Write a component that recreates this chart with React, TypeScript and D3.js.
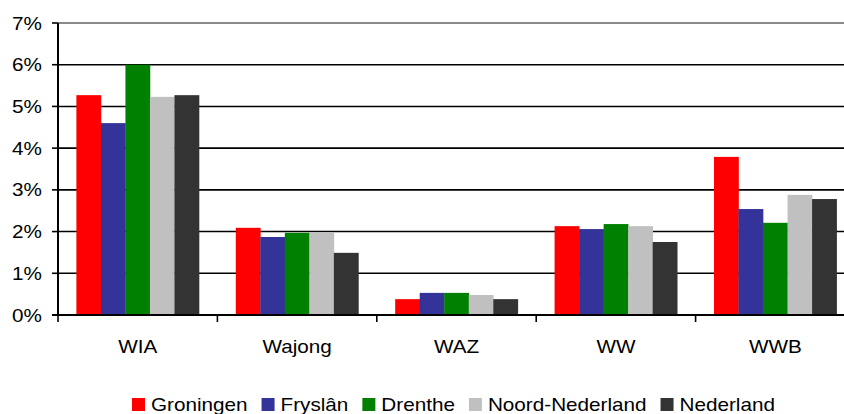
import React, { useEffect, useRef } from 'react';
import * as d3 from 'd3';

// Chart data
const categories = ['WIA', 'Wajong', 'WAZ', 'WW', 'WWB'];
const seriesNames = ['Groningen', 'Fryslân', 'Drenthe', 'Noord-Nederland', 'Nederland'];
const seriesColors = ['#ff0000', '#333399', '#008000', '#c0c0c0', '#333333'];

// values in %, one array per region, ordered as categories
const groningen = [5.27, 2.09, 0.38, 2.13, 3.79];
const fryslan = [4.6, 1.87, 0.53, 2.06, 2.54];
const drenthe = [6.0, 1.97, 0.53, 2.18, 2.21];
const noordNederland = [5.23, 1.97, 0.48, 2.13, 2.88];
const nederland = [5.27, 1.49, 0.38, 1.75, 2.78];
const seriesValues = [groningen, fryslan, drenthe, noordNederland, nederland];

const yTicks = [0, 1, 2, 3, 4, 5, 6, 7];

const WIDTH = 844;
const HEIGHT = 414;
const FONT = 'Liberation Sans, Arial, sans-serif';
const STRETCH = 1.15; // text in the picture is a bit wider than tall

const App: React.FC = () => {
  const svgRef = useRef<SVGSVGElement>(null);

  useEffect(() => {
    if (!svgRef.current) return;
    const svg = d3.select(svgRef.current);
    svg.selectAll('*').remove();

    const left = 58;
    const right = 855; // plot runs past the picture edge
    const top = 23;
    const bottom = 315;

    const x = d3.scaleBand<string>().domain(categories).range([left, right]).padding(0);
    const xInner = d3.scaleBand<string>()
      .domain(seriesNames)
      .range([0, x.bandwidth()])
      .paddingInner(0)
      .paddingOuter(0.75);
    const y = d3.scaleLinear().domain([0, 7]).range([bottom, top]);

    // Gridlines
    svg.append('g')
      .selectAll('line')
      .data(yTicks.filter(t => t > 0))
      .enter()
      .append('line')
      .attr('x1', left)
      .attr('x2', WIDTH)
      .attr('y1', d => y(d))
      .attr('y2', d => y(d))
      .attr('stroke', d => (d === 7 ? '#8a8a8a' : '#000'))
      .attr('stroke-width', d => (d === 7 ? 2 : 1.6));

    // Bars
    const groups = svg.append('g')
      .selectAll('g')
      .data(categories)
      .enter()
      .append('g')
      .attr('transform', d => `translate(${x(d)},0)`);

    groups.selectAll('rect')
      .data((c, ci) => seriesNames.map((s, si) => ({ s, si, v: seriesValues[si][ci] })))
      .enter()
      .append('rect')
      .attr('x', d => xInner(d.s) as number)
      .attr('width', xInner.bandwidth() + 0.3)
      .attr('y', d => y(d.v))
      .attr('height', d => bottom - y(d.v))
      .attr('fill', d => seriesColors[d.si]);

    // Y axis line + ticks
    svg.append('line')
      .attr('x1', left).attr('x2', left)
      .attr('y1', top).attr('y2', bottom)
      .attr('stroke', '#000').attr('stroke-width', 2);

    svg.append('g')
      .selectAll('line')
      .data(yTicks)
      .enter()
      .append('line')
      .attr('x1', left - 6).attr('x2', left)
      .attr('y1', d => y(d)).attr('y2', d => y(d))
      .attr('stroke', '#000').attr('stroke-width', 1.6);

    svg.append('g')
      .selectAll('text')
      .data(yTicks)
      .enter()
      .append('text')
      .attr('transform', d => `translate(42,${y(d) + 6.5}) scale(${STRETCH},1)`)
      .attr('text-anchor', 'end')
      .attr('font-family', FONT)
      .attr('font-size', 18)
      .attr('fill', '#000')
      .text(d => `${d}%`);

    // X axis line + category ticks
    svg.append('line')
      .attr('x1', left - 6).attr('x2', WIDTH)
      .attr('y1', bottom).attr('y2', bottom)
      .attr('stroke', '#000').attr('stroke-width', 2);

    svg.append('g')
      .selectAll('line')
      .data(categories)
      .enter()
      .append('line')
      .attr('x1', d => x(d) as number).attr('x2', d => x(d) as number)
      .attr('y1', bottom).attr('y2', bottom + 7)
      .attr('stroke', '#000').attr('stroke-width', 1.6);

    svg.append('g')
      .selectAll('text')
      .data(categories)
      .enter()
      .append('text')
      .attr('transform', d => `translate(${(x(d) as number) + x.bandwidth() / 2},353) scale(${STRETCH},1)`)
      .attr('text-anchor', 'middle')
      .attr('font-family', FONT)
      .attr('font-size', 18)
      .attr('fill', '#000')
      .text(d => d);

    // Legend
    const legend = svg.append('g');
    let lx = 132;
    seriesNames.forEach((name, i) => {
      legend.append('rect')
        .attr('x', lx).attr('y', 398)
        .attr('width', 13).attr('height', 13)
        .attr('fill', seriesColors[i]);
      const t = legend.append('text')
        .attr('transform', `translate(${lx + 19},411) scale(${STRETCH},1)`)
        .attr('font-family', FONT)
        .attr('font-size', 18)
        .attr('fill', '#000')
        .text(name);
      const w = (t.node() as SVGTextElement).getComputedTextLength() * STRETCH;
      lx += 19 + w + 14;
    });
  }, []);

  return (
    <svg
      ref={svgRef}
      width={WIDTH}
      height={HEIGHT}
      viewBox={`0 0 ${WIDTH} ${HEIGHT}`}
      style={{ position: 'absolute', left: 0, top: 0, background: '#fff' }}
    />
  );
};

export default App;
